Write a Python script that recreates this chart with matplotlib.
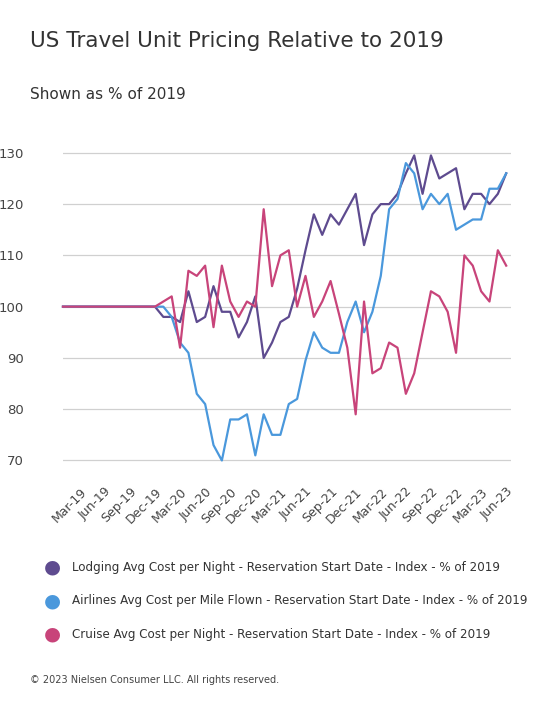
import matplotlib
matplotlib.use("Agg")
import matplotlib.pyplot as plt
import pandas as pd

months = pd.date_range("2019-01-01", "2023-06-01", freq="MS")
lodging = [100]*11 + [100, 98, 98, 97, 103, 97, 98, 104, 99, 99, 94, 97, 102, 90, 93, 97, 98,
           103.5, 111, 118, 114, 118, 116, 119, 122, 112, 118, 120, 120, 122, 126, 129.5, 122,
           129.5, 125, 126, 127, 119, 122, 122, 120, 122, 126]
airlines = [100]*11 + [100, 100, 98, 93, 91, 83, 81, 73, 70, 78, 78, 79, 71, 79, 75, 75, 81,
            82, 89.5, 95, 92, 91, 91, 97, 101, 95, 99, 106, 119, 121, 128, 126, 119, 122, 120,
            122, 115, 116, 117, 117, 123, 123, 126]
cruise = [100]*11 + [100, 101, 102, 92, 107, 106, 108, 96, 108, 101, 98, 101, 100, 119, 104, 110, 111,
          100, 106, 98, 101, 105, 98.6, 92, 79, 101, 87, 88, 93, 92, 83, 87, 95, 103, 102, 99, 91,
          110, 108, 103, 101, 111, 108]
labels = ["Lodging Avg Cost per Night - Reservation Start Date - Index - % of 2019",
          "Airlines Avg Cost per Mile Flown - Reservation Start Date - Index - % of 2019",
          "Cruise Avg Cost per Night - Reservation Start Date - Index - % of 2019"]
colors = ["#5e4b8f", "#4a98dc", "#c8447a"]
yticks = [70, 80, 90, 100, 110, 120, 130]

fig = plt.figure(figsize=(5.5, 7.19), dpi=100)
ax = fig.add_axes([0.1145, 0.356, 0.815, 0.435])
x = list(range(len(months)))
for s, c in zip([lodging, airlines, cruise], colors):
    ax.plot(x, s, color=c, lw=1.6, clip_on=False)
ax.set_ylim(69.5, 130.5)
ax.set_xlim(0, len(months) - 1 + 0.6)
ax.set_yticks(yticks)
ax.tick_params(axis='y', length=0, pad=28, labelsize=9.5, labelcolor="#444444")
ax.grid(axis='y', color="#d0d0d0", lw=0.9)
ax.set_axisbelow(True)
for sp in ax.spines.values():
    sp.set_visible(False)
tick_idx = [i for i, m in enumerate(months) if m.month in (3, 6, 9, 12)]
ax.set_xticks(tick_idx)
ax.set_xticklabels([months[i].strftime("%b-%y") for i in tick_idx], rotation=45, ha='right',
                   rotation_mode='anchor', fontsize=9, color="#444444")
ax.tick_params(axis='x', length=0, pad=16)

fig.text(0.055, 0.935, "US Travel Unit Pricing Relative to 2019", fontsize=15.5, color="#333333")
fig.text(0.055, 0.862, "Shown as % of 2019", fontsize=11, color="#333333")
for i, (l, c) in enumerate(zip(labels, colors)):
    y = 0.211 - i * 0.0465
    fig.text(0.096, y, "●", fontsize=14, color=c, ha='center', va='center')
    fig.text(0.13, y, l, fontsize=8.6, color="#333333", va='center')
fig.text(0.055, 0.05, "© 2023 Nielsen Consumer LLC. All rights reserved.", fontsize=7, color="#444444")
fig.savefig("out.png", dpi=100)
